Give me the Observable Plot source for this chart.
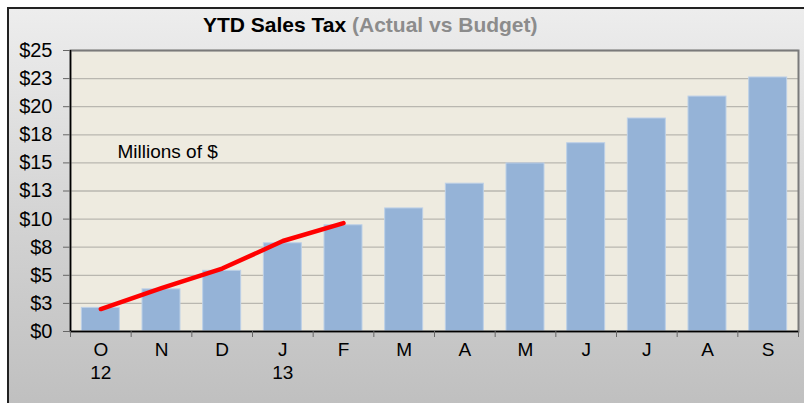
<!DOCTYPE html>
<html>
<head>
<meta charset="utf-8">
<script src="https://cdn.jsdelivr.net/npm/d3@7"></script>
<script src="https://cdn.jsdelivr.net/npm/@observablehq/plot@0.6"></script>
<style>
  html, body { margin: 0; padding: 0; background: #fff; }
  #wrap { position: relative; width: 804px; height: 403px; overflow: hidden; font-family: "Liberation Sans", Arial, sans-serif; }
  #bg { position: absolute; left: 7px; top: 7px; width: 800px; height: 400px;
        border-left: 2px solid #222; border-top: 2px solid #222;
        background: linear-gradient(to bottom, #ededed 0%, #e6e6e6 15%, #d2d2d2 55%, #bfbfbf 100%); }
  #title { position: absolute; left: 203px; top: 13px; font-size: 21px; line-height: 24px; font-weight: bold; color: #000; white-space: nowrap; }
  #title span { color: #8c8c8c; }
  #chart { position: absolute; left: 0; top: 0; }
  #chart svg { background: transparent; }
</style>
</head>
<body>
<div id="wrap">
  <div id="bg"></div>
  <div id="chart"></div>
  <div id="title">YTD Sales Tax <span>(Actual vs Budget)</span></div>
</div>
<script>
const monthKeys = ["Oct-12","Nov-12","Dec-12","Jan-13","Feb-13","Mar-13","Apr-13","May-13","Jun-13","Jul-13","Aug-13","Sep-13"];
const monthLabels = ["O","N","D","J","F","M","A","M","J","J","A","S"];
const yearLabels = ["12","","","13","","","","","","","",""];
const budget = [2.1, 3.75, 5.4, 7.85, 9.45, 10.95, 13.15, 14.95, 16.75, 18.95, 20.9, 22.6];
const actual = [2.0, 3.85, 5.6, 8.05, 9.65];
const yTicks = [0, 2.5, 5, 7.5, 10, 12.5, 15, 17.5, 20, 22.5, 25];
const yTickLabels = ["$0","$3","$5","$8","$10","$13","$15","$18","$20","$23","$25"];

const W = 804, H = 403, ML = 70, MR = 6, MT = 50, MB = 72;
const step = (W - ML - MR) / monthKeys.length;
const frameH = H - MT - MB;

const barData = monthKeys.map((m, i) => ({m, v: budget[i]}));
const lineData = actual.map((v, i) => ({m: monthKeys[i], v}));

const chart = Plot.plot({
  width: W, height: H,
  marginLeft: ML, marginRight: MR, marginTop: MT, marginBottom: MB,
  style: {fontFamily: "'Liberation Sans', Arial, sans-serif", background: "transparent", color: "#000", overflow: "visible"},
  x: {type: "band", domain: monthKeys, paddingInner: 0.374, paddingOuter: 0.187, round: false, axis: null},
  y: {domain: [0, 25], axis: null, label: null},
  marks: [
    Plot.frame({fill: "#eeebe0", stroke: null}),
    Plot.gridY(yTicks, {stroke: "#b9b7b0", strokeOpacity: 1, strokeWidth: 1.3}),
    Plot.barY(barData, {x: "m", y: "v", fill: "#95b3d7", stroke: "#bdd0e7", strokeWidth: 1}),
    Plot.line(lineData, {x: "m", y: "v", stroke: "#ff0000", strokeWidth: 4.5, strokeLinecap: "round", strokeLinejoin: "round"}),
    Plot.frame({stroke: "#7a7a7a", strokeWidth: 2}),
    Plot.ruleY([0], {stroke: "#000", strokeWidth: 1.5}),
    Plot.ruleX([monthKeys[0]], {x: d => d, dx: -step / 2, stroke: "#000", strokeWidth: 1.5}),
    Plot.ruleX(monthKeys, {x: d => d, dx: -step / 2, insetTop: frameH, insetBottom: -6, stroke: "#666"}),
    Plot.ruleX([monthKeys[monthKeys.length - 1]], {x: d => d, dx: step / 2, insetTop: frameH, insetBottom: -6, stroke: "#666"}),
    Plot.axisY(yTicks, {label: null, tickFormat: d => yTickLabels[yTicks.indexOf(d)], tickSize: 7, tickPadding: 11, fontSize: 20, stroke: "#666", fill: "#000"}),
    Plot.text(monthKeys, {x: d => d, text: (d, i) => monthLabels[i], frameAnchor: "bottom", dy: 24, fontSize: 19, fill: "#000"}),
    Plot.text(monthKeys, {x: d => d, text: (d, i) => yearLabels[i], frameAnchor: "bottom", dy: 47, fontSize: 19, fill: "#000"}),
    Plot.text(["Millions of $"], {frameAnchor: "top-left", dx: 47, dy: 94, textAnchor: "start", fontSize: 19, fill: "#000"})
  ]
});
document.getElementById("chart").appendChild(chart);
</script>
</body>
</html>
